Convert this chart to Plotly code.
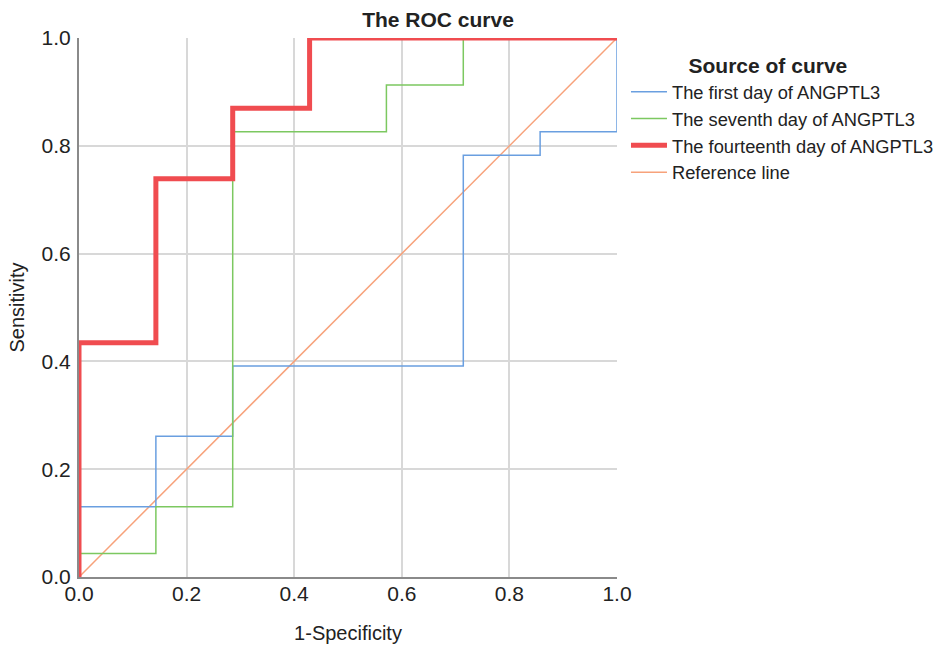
import plotly.graph_objects as go

# ROC curve coordinates (1-Specificity, Sensitivity)
day1_fpr = [0, 0, 0.1429, 0.1429, 0.2857, 0.2857, 0.7143, 0.7143, 0.8571, 0.8571, 1.0, 1.0]
day1_tpr = [0, 0.1304, 0.1304, 0.2609, 0.2609, 0.3913, 0.3913, 0.7826, 0.7826, 0.8261, 0.8261, 1.0]

day7_fpr = [0, 0, 0.1429, 0.1429, 0.2857, 0.2857, 0.5714, 0.5714, 0.7143, 0.7143, 1.0]
day7_tpr = [0, 0.0435, 0.0435, 0.1304, 0.1304, 0.8261, 0.8261, 0.9130, 0.9130, 1.0, 1.0]

day14_fpr = [0, 0, 0.1429, 0.1429, 0.2857, 0.2857, 0.4286, 0.4286, 1.0]
day14_tpr = [0, 0.4348, 0.4348, 0.7391, 0.7391, 0.8696, 0.8696, 1.0, 1.0]

ref_x = [0, 1]
ref_y = [0, 1]

tick_vals = [0, 0.2, 0.4, 0.6, 0.8, 1.0]
tick_text = ["0.0", "0.2", "0.4", "0.6", "0.8", "1.0"]

names = ["The first day of ANGPTL3", "The seventh day of ANGPTL3",
         "The fourteenth day of ANGPTL3", "Reference line"]
colors = ["#6a9fe0", "#7cc860", "#f04c50", "#f7a27b"]
widths = [1.5, 1.5, 5, 1.5]

series = [(day1_fpr, day1_tpr), (day7_fpr, day7_tpr), (day14_fpr, day14_tpr), (ref_x, ref_y)]

fig = go.Figure()
order = [3, 0, 1, 2]
for i in order:
    x, y = series[i]
    fig.add_trace(go.Scatter(x=x, y=y, mode="lines", name=names[i],
                             line=dict(color=colors[i], width=widths[i]),
                             legendrank=i + 1))

font_family = "Liberation Sans, Arial, sans-serif"
fig.update_layout(
    width=940, height=646,
    margin=dict(l=79, r=323, t=38, b=69, autoexpand=False),
    paper_bgcolor="white", plot_bgcolor="white",
    font=dict(family=font_family, color="#222222", size=20),
    title=dict(text="<b>The ROC curve</b>", x=438 / 940, xanchor="center",
               y=1 - 20 / 646, yanchor="middle", font=dict(size=21, color="#222222")),
    legend=dict(
        title=dict(text="<b>Source of curve</b>" + "\u00a0" * 5, font=dict(size=21),
                   side="top center"),
        x=1.0167, xanchor="left", y=0.985, yanchor="top",
        font=dict(size=18.3), tracegroupgap=0, itemwidth=36,
        bgcolor="rgba(0,0,0,0)",
    ),
    showlegend=True,
)
fig.update_xaxes(range=[0, 1], tickvals=tick_vals, ticktext=tick_text,
                 showgrid=True, gridcolor="#d8d8d8", gridwidth=2,
                 showline=True, linecolor="#8a8a8a", linewidth=2,
                 zeroline=False, ticks="", ticklabelstandoff=-3,
                 tickfont=dict(size=21), automargin=False,
                 title=dict(text="1-Specificity", font=dict(size=20), standoff=22))
fig.update_yaxes(range=[0, 1], tickvals=tick_vals, ticktext=tick_text,
                 showgrid=True, gridcolor="#d8d8d8", gridwidth=2,
                 showline=True, linecolor="#8a8a8a", linewidth=2,
                 zeroline=False, ticks="", ticklabelstandoff=2,
                 tickfont=dict(size=21), automargin=False,
                 title=dict(text="Sensitivity", font=dict(size=20), standoff=12))

fig.write_html("out.html", config={"displayModeBar": False},
               post_script="document.body.style.margin='0';")
